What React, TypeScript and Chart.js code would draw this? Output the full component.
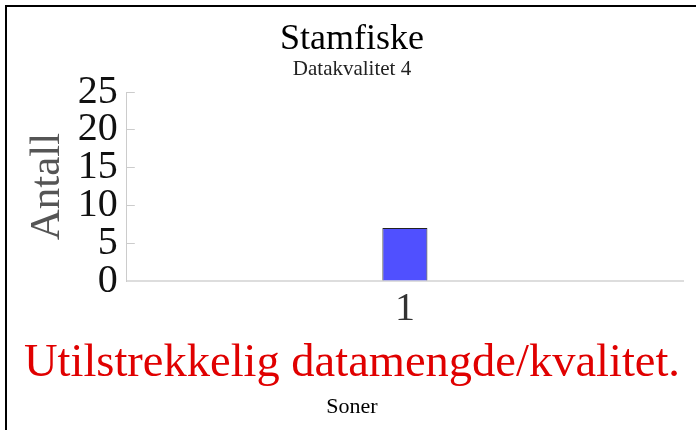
import React, { useEffect, useRef } from "react";
import { Chart, registerables } from "chart.js";

Chart.register(...registerables);

const categories = ["1"];
const antall = [7];
const yTicks = [0, 5, 10, 15, 20, 25];

const chartTitle = "Stamfiske";
const chartSubtitle = "Datakvalitet 4";
const yTitle = "Antall";
const warning = "Utilstrekkelig datamengde/kvalitet.";
const xTitle = "Soner";

const SERIF = "'Liberation Serif', 'Times New Roman', serif";

const hiddenAxis = (weight: number, text: string, color: string, size: number, padding: any) => ({
  type: "category",
  position: "bottom",
  fullSize: true,
  weight,
  grid: { display: false, drawTicks: false },
  border: { display: false },
  ticks: { display: false },
  title: {
    display: true,
    text,
    color,
    font: { family: SERIF, size, lineHeight: 1 },
    padding,
  },
});

export default function App() {
  const ref = useRef<HTMLCanvasElement | null>(null);

  useEffect(() => {
    if (!ref.current) return;
    const chart = new Chart(ref.current, {
      type: "bar",
      data: {
        labels: categories,
        datasets: [
          {
            data: antall,
            backgroundColor: "#5050ff",
            borderColor: "#222222",
            borderWidth: 1,
            barPercentage: 0.081,
            categoryPercentage: 1,
          },
        ],
      },
      options: {
        responsive: false,
        animation: false,
        layout: { padding: { left: 21, right: 13, top: 0, bottom: 12 } },
        plugins: {
          legend: { display: false },
          tooltip: { enabled: false },
          title: {
            display: true,
            text: chartTitle,
            color: "#000",
            font: { family: SERIF, size: 36, weight: "normal", lineHeight: 1 },
            padding: { top: 22, bottom: 1 },
          },
          subtitle: {
            display: true,
            text: chartSubtitle,
            color: "#222",
            font: { family: SERIF, size: 21, weight: "normal", lineHeight: 1 },
            padding: { top: 0, bottom: 12 },
          },
        },
        scales: {
          x: {
            type: "category",
            position: "bottom",
            grid: { display: false, drawTicks: false },
            border: { display: true, color: "#dddddd", width: 2 },
            ticks: {
              color: "#333",
              font: { family: SERIF, size: 40, lineHeight: 1 },
              padding: 8.5,
            },
          },
          x2: hiddenAxis(1, warning, "#e00000", 46.5, { top: 2.75, bottom: 8.75 }),
          x3: hiddenAxis(2, xTitle, "#000", 22, 0),
          y: {
            min: 0,
            max: 25,
            afterBuildTicks: (axis: any) => {
              axis.ticks = yTicks.map((v) => ({ value: v }));
            },
            grid: {
              drawOnChartArea: false,
              drawTicks: true,
              tickLength: -8,
              color: "#cccccc",
            },
            border: { display: true, color: "#cccccc", width: 1 },
            ticks: {
              autoSkip: false,
              color: "#111",
              font: { family: SERIF, size: 40, lineHeight: 1 },
              padding: 17,
            },
            title: {
              display: true,
              text: yTitle,
              color: "#555",
              font: { family: SERIF, size: 43, lineHeight: 0.6 },
              padding: { top: 14, bottom: 0 },
            },
          },
        },
      } as any,
    });
    return () => chart.destroy();
  }, []);

  return (
    <div style={{ position: "fixed", left: 0, top: 0, width: 696, height: 430, background: "#fff" }}>
      <canvas ref={ref} width={696} height={430} style={{ position: "absolute", left: 0, top: 0 }} />
      <div
        style={{
          position: "fixed",
          left: 5,
          top: 5,
          width: 691,
          height: 425,
          boxSizing: "border-box",
          borderTop: "2px solid #000",
          borderLeft: "2px solid #000",
          pointerEvents: "none",
        }}
      />
    </div>
  );
}
